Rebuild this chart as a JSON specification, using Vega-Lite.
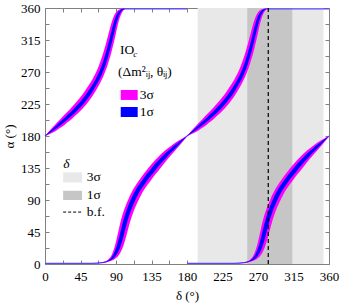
{
  "$schema": "https://vega.github.io/schema/vega-lite/v6.json",
  "width": 284,
  "height": 256,
  "autosize": "none",
  "padding": {"left": 45, "top": 8, "right": 12, "bottom": 42},
  "background": "white",
  "config": {
    "view": {"stroke": null},
    "axis": {
      "grid": false,
      "domainColor": "#808080",
      "tickColor": "#808080",
      "tickSize": -4,
      "labelFont": "Liberation Serif",
      "labelFontSize": 13,
      "labelColor": "black",
      "labelFlush": false,
      "titleFont": "Liberation Serif",
      "titleFontSize": 13,
      "titleFontWeight": "normal",
      "titleColor": "black"
    }
  },
  "datasets": {
    "bands": [
      {"b":"U","d":0,"d2":180,"l3":180,"h3":180,"l1":180,"h1":180,"c":180},
      {"b":"U","d":3,"d2":183,"l3":181.28,"h3":183.88,"l1":182.05,"h1":183.09,"c":182.57},
      {"b":"U","d":6,"d2":186,"l3":182.75,"h3":187.67,"l1":184.14,"h1":186.25,"c":185.19},
      {"b":"U","d":10,"d2":190,"l3":185.01,"h3":192.57,"l1":187.14,"h1":190.38,"c":188.75},
      {"b":"U","d":15,"d2":195,"l3":188.12,"h3":198.67,"l1":191.11,"h1":195.55,"c":193.31},
      {"b":"U","d":20,"d2":200,"l3":191.84,"h3":204.42,"l1":195.36,"h1":200.69,"c":198},
      {"b":"U","d":25,"d2":205,"l3":195.92,"h3":210.09,"l1":199.91,"h1":205.81,"c":202.83},
      {"b":"U","d":30,"d2":210,"l3":200.3,"h3":215.8,"l1":204.61,"h1":211.12,"c":207.83},
      {"b":"U","d":35,"d2":215,"l3":205.01,"h3":221.8,"l1":209.57,"h1":216.57,"c":213},
      {"b":"U","d":40,"d2":220,"l3":210.09,"h3":228.12,"l1":214.81,"h1":222.4,"c":218.5},
      {"b":"U","d":45,"d2":225,"l3":215.47,"h3":234.99,"l1":220.6,"h1":228.65,"c":224.5},
      {"b":"U","d":50,"d2":230,"l3":221.56,"h3":242.34,"l1":226.93,"h1":235.63,"c":231.1},
      {"b":"U","d":55,"d2":235,"l3":228.25,"h3":250.59,"l1":233.99,"h1":243.34,"c":238.5},
      {"b":"U","d":60,"d2":240,"l3":236.06,"h3":259.61,"l1":242.01,"h1":251.9,"c":246.78},
      {"b":"U","d":64,"d2":244,"l3":243.01,"h3":267.95,"l1":249.66,"h1":259.61,"c":254.23},
      {"b":"U","d":68,"d2":248,"l3":250.59,"h3":278.22,"l1":257.28,"h1":268.72,"c":262.7},
      {"b":"U","d":71,"d2":251,"l3":257.08,"h3":287.07,"l1":264.19,"h1":276.56,"c":270.01},
      {"b":"U","d":74,"d2":254,"l3":264.19,"h3":297.37,"l1":272.02,"h1":285.86,"c":278.53},
      {"b":"U","d":76,"d2":256,"l3":269.49,"h3":305.01,"l1":277.91,"h1":292.9,"c":285},
      {"b":"U","d":78,"d2":258,"l3":275.24,"h3":313.31,"l1":284.49,"h1":300.62,"c":292.15},
      {"b":"U","d":80,"d2":260,"l3":282,"h3":321.54,"l1":291.96,"h1":308.67,"c":300},
      {"b":"U","d":82,"d2":262,"l3":289.21,"h3":330.22,"l1":300,"h1":317.4,"c":308.45},
      {"b":"U","d":84,"d2":264,"l3":297.17,"h3":338.24,"l1":308.45,"h1":326.6,"c":317.4},
      {"b":"U","d":86,"d2":266,"l3":305.86,"h3":344.97,"l1":317.63,"h1":335.19,"c":326.6},
      {"b":"U","d":88,"d2":268,"l3":315.12,"h3":350.25,"l1":327.06,"h1":342.66,"c":335.4},
      {"b":"U","d":90,"d2":270,"l3":324.76,"h3":354.09,"l1":336.03,"h1":348.61,"c":343},
      {"b":"U","d":92,"d2":272,"l3":334.98,"h3":356.41,"l1":344,"h1":352.84,"c":349},
      {"b":"U","d":94,"d2":274,"l3":343.34,"h3":357.94,"l1":349.89,"h1":355.89,"c":353.4},
      {"b":"U","d":96,"d2":276,"l3":349.76,"h3":358.77,"l1":354.18,"h1":357.71,"c":356.3},
      {"b":"U","d":98,"d2":278,"l3":354.42,"h3":358.8,"l1":356.87,"h1":358.69,"c":358},
      {"b":"U","d":100,"d2":280,"l3":357.1,"h3":358.8,"l1":358.35,"h1":358.8,"c":358.8},
      {"b":"U","d":103,"d2":283,"l3":358.8,"h3":358.8,"l1":358.8,"h1":358.8,"c":358.8},
      {"b":"U","d":180,"d2":360,"l3":358.8,"h3":358.8,"l1":358.8,"h1":358.8,"c":358.8},
      {"b":"L","d":0,"d2":180,"l3":1,"h3":1,"l1":1,"h1":1,"c":1},
      {"b":"L","d":60,"d2":240,"l3":1,"h3":1,"l1":1,"h1":1,"c":1},
      {"b":"L","d":70,"d2":250,"l3":1.4,"h3":1.78,"l1":1.46,"h1":1.63,"c":1.5},
      {"b":"L","d":75,"d2":255,"l3":1.95,"h3":3.19,"l1":2.16,"h1":2.7,"c":2.33},
      {"b":"L","d":80,"d2":260,"l3":3.12,"h3":6.09,"l1":3.71,"h1":5.05,"c":4.2},
      {"b":"L","d":84,"d2":264,"l3":4.53,"h3":11.48,"l1":5.76,"h1":8.82,"c":7.18},
      {"b":"L","d":87,"d2":267,"l3":5.96,"h3":19.6,"l1":8.26,"h1":14.15,"c":10.73},
      {"b":"L","d":90,"d2":270,"l3":8.31,"h3":31.15,"l1":11.93,"h1":22.01,"c":16.28},
      {"b":"L","d":92,"d2":272,"l3":10.28,"h3":41.1,"l1":15.47,"h1":29.22,"c":21.38},
      {"b":"L","d":94,"d2":274,"l3":13.24,"h3":50.93,"l1":20.11,"h1":37.58,"c":27.68},
      {"b":"L","d":96,"d2":276,"l3":16.92,"h3":60.44,"l1":25.79,"h1":46.88,"c":35.38},
      {"b":"L","d":98,"d2":278,"l3":21.7,"h3":68.42,"l1":32.88,"h1":55.88,"c":44.18},
      {"b":"L","d":100,"d2":280,"l3":27.68,"h3":75.18,"l1":41.1,"h1":64.04,"c":53.18},
      {"b":"L","d":102,"d2":282,"l3":34.99,"h3":81.25,"l1":49.81,"h1":71.18,"c":61.48},
      {"b":"L","d":104,"d2":284,"l3":43.3,"h3":86.81,"l1":58.16,"h1":77.5,"c":68.78},
      {"b":"L","d":106,"d2":286,"l3":51.83,"h3":91.85,"l1":65.68,"h1":83.25,"c":75.18},
      {"b":"L","d":108,"d2":288,"l3":59.61,"h3":96.88,"l1":72.3,"h1":88.49,"c":80.98},
      {"b":"L","d":110,"d2":290,"l3":66.77,"h3":101.29,"l1":78.23,"h1":93.41,"c":86.33},
      {"b":"L","d":114,"d2":294,"l3":78.66,"h3":108.97,"l1":88.61,"h1":102.32,"c":95.93},
      {"b":"L","d":118,"d2":298,"l3":88.73,"h3":115.63,"l1":97.72,"h1":109.52,"c":104.05},
      {"b":"L","d":122,"d2":302,"l3":97.51,"h3":121.87,"l1":105.42,"h1":115.99,"c":110.87},
      {"b":"L","d":126,"d2":306,"l3":104.96,"h3":127.87,"l1":111.82,"h1":122.08,"c":117.21},
      {"b":"L","d":130,"d2":310,"l3":111.35,"h3":133.6,"l1":118,"h1":127.8,"c":122.95},
      {"b":"L","d":135,"d2":315,"l3":118.93,"h3":140.28,"l1":125.1,"h1":134.69,"c":129.92},
      {"b":"L","d":140,"d2":320,"l3":126.09,"h3":146.61,"l1":131.96,"h1":141.17,"c":136.74},
      {"b":"L","d":145,"d2":325,"l3":133.05,"h3":152.17,"l1":138.7,"h1":147.37,"c":143.07},
      {"b":"L","d":150,"d2":330,"l3":139.9,"h3":157.43,"l1":145.09,"h1":152.96,"c":149.12},
      {"b":"L","d":155,"d2":335,"l3":146.86,"h3":162.02,"l1":151.21,"h1":158.09,"c":154.77},
      {"b":"L","d":160,"d2":340,"l3":153.19,"h3":166.45,"l1":157.02,"h1":162.94,"c":159.98},
      {"b":"L","d":165,"d2":345,"l3":159.47,"h3":170.47,"l1":162.53,"h1":167.53,"c":165.08},
      {"b":"L","d":170,"d2":350,"l3":165.96,"h3":174.01,"l1":168.17,"h1":171.79,"c":169.98},
      {"b":"L","d":175,"d2":355,"l3":172.63,"h3":177.35,"l1":173.95,"h1":176,"c":174.88},
      {"b":"L","d":180,"d2":360,"l3":180,"h3":180,"l1":180,"h1":180,"c":180}
    ],
    "deltaBands": [
      {"s":"3σ","lo":193.5,"hi":353},
      {"s":"1σ","lo":256.4,"hi":313.5}
    ],
    "bf": [{"d":283}],
    "txt": [
      {"d":95,"a":301,"t":"IO"},
      {"d":92.5,"a":270,"t":"(Δm²ᵢⱼ, θᵢⱼ)"},
      {"d":120,"a":237.7,"t":"3σ"},
      {"d":120,"a":213.7,"t":"1σ"},
      {"d":53,"a":121.7,"t":"3σ"},
      {"d":53,"a":96.5,"t":"1σ"},
      {"d":53,"a":73,"t":"b.f."}
    ]
  },
  "encoding": {
    "x": {"type": "quantitative", "scale": {"domain": [0, 360], "nice": false, "zero": false}},
    "y": {"type": "quantitative", "scale": {"domain": [0, 360], "nice": false, "zero": false}}
  },
  "resolve": {"axis": {"x": "independent", "y": "independent"}},
  "layer": [
    {
      "data": {"name": "deltaBands"},
      "transform": [{"filter": "datum.s == '3σ'"}],
      "mark": {"type": "rect", "color": "#e8e8e8"},
      "encoding": {
        "x": {"field": "lo", "type": "quantitative", "axis": null},
        "x2": {"field": "hi"}
      }
    },
    {
      "data": {"name": "deltaBands"},
      "transform": [{"filter": "datum.s == '1σ'"}],
      "mark": {"type": "rect", "color": "#c6c6c6"},
      "encoding": {
        "x": {"field": "lo", "type": "quantitative", "axis": null},
        "x2": {"field": "hi"}
      }
    },
    {
      "data": {"name": "bands"},
      "mark": {"type": "line", "color": "#5a46ff", "strokeWidth": 1.2, "interpolate": "monotone"},
      "encoding": {
        "x": {"field": "d", "type": "quantitative", "axis": null},
        "y": {"field": "c", "type": "quantitative", "axis": null},
        "detail": {"field": "b"}
      }
    },
    {
      "data": {"name": "bands"},
      "mark": {"type": "line", "color": "#5a46ff", "strokeWidth": 1.2, "interpolate": "monotone"},
      "encoding": {
        "x": {"field": "d2", "type": "quantitative", "axis": null},
        "y": {"field": "c", "type": "quantitative", "axis": null},
        "detail": {"field": "b"}
      }
    },
    {
      "data": {"name": "bands"},
      "mark": {"type": "area", "color": "#ff00ff", "interpolate": "monotone"},
      "encoding": {
        "x": {"field": "d", "type": "quantitative", "title": "δ (°)",
          "axis": {"orient": "bottom", "values": [0,22.5,45,67.5,90,112.5,135,157.5,180,202.5,225,247.5,270,292.5,315,337.5,360],
            "labelExpr": "datum.value % 45 == 0 ? datum.label : ''", "labelPadding": 10, "titlePadding": 6}},
        "y": {"field": "l3", "type": "quantitative", "title": "α (°)",
          "axis": {"orient": "left", "values": [0,22.5,45,67.5,90,112.5,135,157.5,180,202.5,225,247.5,270,292.5,315,337.5,360],
            "labelExpr": "datum.value % 45 == 0 ? datum.label : ''", "labelPadding": 9, "titlePadding": 4}},
        "y2": {"field": "h3"},
        "detail": {"field": "b"}
      }
    },
    {
      "data": {"name": "bands"},
      "mark": {"type": "area", "color": "#ff00ff", "interpolate": "monotone"},
      "encoding": {
        "x": {"field": "d2", "type": "quantitative", "title": null,
          "axis": {"orient": "top", "values": [0,22.5,45,67.5,90,112.5,135,157.5,180,202.5,225,247.5,270,292.5,315,337.5,360], "labels": false}},
        "y": {"field": "l3", "type": "quantitative", "title": null,
          "axis": {"orient": "right", "values": [0,22.5,45,67.5,90,112.5,135,157.5,180,202.5,225,247.5,270,292.5,315,337.5,360], "labels": false}},
        "y2": {"field": "h3"},
        "detail": {"field": "b"}
      }
    },
    {
      "data": {"name": "bands"},
      "mark": {"type": "area", "color": "#0000ff", "interpolate": "monotone"},
      "encoding": {
        "x": {"field": "d", "type": "quantitative", "axis": null},
        "y": {"field": "l1", "type": "quantitative", "axis": null},
        "y2": {"field": "h1"},
        "detail": {"field": "b"}
      }
    },
    {
      "data": {"name": "bands"},
      "mark": {"type": "area", "color": "#0000ff", "interpolate": "monotone"},
      "encoding": {
        "x": {"field": "d2", "type": "quantitative", "axis": null},
        "y": {"field": "l1", "type": "quantitative", "axis": null},
        "y2": {"field": "h1"},
        "detail": {"field": "b"}
      }
    },
    {
      "data": {"name": "bf"},
      "mark": {"type": "rule", "color": "black", "strokeWidth": 1.2, "strokeDash": [4, 3]},
      "encoding": {
        "x": {"field": "d", "type": "quantitative", "axis": null}
      }
    },
    {
      "data": {"values": [{"x1": 96, "x2": 117.5, "y1": 230.7, "y2": 244.7}]},
      "mark": {"type": "rect", "color": "#ff00ff"},
      "encoding": {
        "x": {"field": "x1", "type": "quantitative", "axis": null}, "x2": {"field": "x2"},
        "y": {"field": "y1", "type": "quantitative", "axis": null}, "y2": {"field": "y2"}
      }
    },
    {
      "data": {"values": [{"x1": 96, "x2": 117.5, "y1": 206.7, "y2": 220.8}]},
      "mark": {"type": "rect", "color": "#0000ff"},
      "encoding": {
        "x": {"field": "x1", "type": "quantitative", "axis": null}, "x2": {"field": "x2"},
        "y": {"field": "y1", "type": "quantitative", "axis": null}, "y2": {"field": "y2"}
      }
    },
    {
      "data": {"values": [{"x1": 23, "x2": 47, "y1": 114.7, "y2": 128.8}]},
      "mark": {"type": "rect", "color": "#e8e8e8"},
      "encoding": {
        "x": {"field": "x1", "type": "quantitative", "axis": null}, "x2": {"field": "x2"},
        "y": {"field": "y1", "type": "quantitative", "axis": null}, "y2": {"field": "y2"}
      }
    },
    {
      "data": {"values": [{"x1": 23, "x2": 47, "y1": 90, "y2": 103}]},
      "mark": {"type": "rect", "color": "#c6c6c6"},
      "encoding": {
        "x": {"field": "x1", "type": "quantitative", "axis": null}, "x2": {"field": "x2"},
        "y": {"field": "y1", "type": "quantitative", "axis": null}, "y2": {"field": "y2"}
      }
    },
    {
      "data": {"values": [{"x1": 23, "x2": 47, "y": 73}]},
      "mark": {"type": "rule", "color": "black", "strokeWidth": 1, "strokeDash": [3, 2]},
      "encoding": {
        "x": {"field": "x1", "type": "quantitative", "axis": null}, "x2": {"field": "x2"},
        "y": {"field": "y", "type": "quantitative", "axis": null}
      }
    },
    {
      "data": {"name": "txt"},
      "mark": {"type": "text", "align": "left", "baseline": "middle", "font": "Liberation Serif", "fontSize": 13.5, "color": "black"},
      "encoding": {
        "x": {"field": "d", "type": "quantitative", "axis": null},
        "y": {"field": "a", "type": "quantitative", "axis": null},
        "text": {"field": "t"}
      }
    },
    {
      "data": {"values": [{"d": 112, "a": 296, "t": "c"}]},
      "mark": {"type": "text", "align": "left", "baseline": "middle", "font": "Liberation Serif", "fontSize": 9, "fontStyle": "italic", "color": "black"},
      "encoding": {
        "x": {"field": "d", "type": "quantitative", "axis": null},
        "y": {"field": "a", "type": "quantitative", "axis": null},
        "text": {"field": "t"}
      }
    },
    {
      "data": {"values": [{"d": 23, "a": 141, "t": "δ"}]},
      "mark": {"type": "text", "align": "left", "baseline": "middle", "font": "Liberation Serif", "fontSize": 13.5, "fontStyle": "italic", "color": "black"},
      "encoding": {
        "x": {"field": "d", "type": "quantitative", "axis": null},
        "y": {"field": "a", "type": "quantitative", "axis": null},
        "text": {"field": "t"}
      }
    }
  ]
}
